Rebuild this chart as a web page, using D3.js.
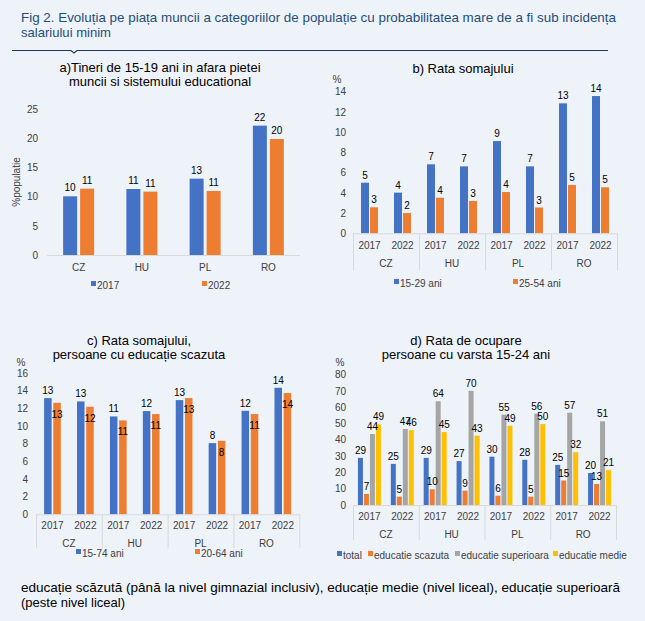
<!DOCTYPE html>
<html>
<head>
<meta charset="utf-8">
<script src="https://cdn.jsdelivr.net/npm/d3@7"></script>
<style>
  html, body { margin: 0; padding: 0; background: #eef2f9; }
  svg { display: block; font-family: "Liberation Sans", Arial, sans-serif; }
</style>
</head>
<body>
<div id="chart"></div>
<script>
// ---- data ----
const countries = ["CZ", "HU", "PL", "RO"];
const years = ["2017", "2022"];

// a) tineri 15-19 in afara pietei muncii si educatiei (% populatie)
const aSeries = ["2017", "2022"];
const aTicks = [0, 5, 10, 15, 20, 25];
const a2017 = [10.05, 11.3, 13.07, 22.15];
const a2022 = [11.36, 10.85, 10.96, 19.86];

// b) rata somajului, pe tara x an (CZ17, CZ22, HU17, ...)
const bSeries = ["15-29 ani", "25-54 ani"];
const bTicks = [0, 2, 4, 6, 8, 10, 12, 14];
const bYoung = [5.0, 4.02, 6.82, 6.62, 9.12, 6.62, 12.85, 13.57];
const bPrime = [2.57, 2.0, 3.52, 3.2, 4.08, 2.55, 4.78, 4.55];

// c) rata somajului, educatie scazuta
const cSeries = ["15-74 ani", "20-64 ani"];
const cTicks = [0, 2, 4, 6, 8, 10, 12, 14, 16];
const cWide = [13.16, 12.78, 11.08, 11.69, 12.93, 8.06, 11.72, 14.33];
const cCore = [12.63, 12.18, 10.63, 11.35, 13.16, 8.32, 11.35, 13.73];

// d) rata de ocupare 15-24 ani
const dSeries = ["total", "educatie scazuta", "educatie superioara", "educatie medie"];
const dTicks = [0, 10, 20, 30, 40, 50, 60, 70, 80];
const dTotal = [28.9, 25.2, 28.9, 26.9, 29.6, 27.7, 24.6, 19.6];
const dLow = [6.8, 5.1, 9.6, 8.8, 5.7, 5.1, 15.0, 12.9];
const dHigh = [43.5, 46.6, 63.6, 70.0, 55.4, 56.0, 56.6, 51.3];
const dMid = [49.4, 45.9, 44.7, 42.5, 48.6, 49.6, 32.4, 21.4];

const colors = ["#4472c4", "#ed7d31", "#a5a5a5", "#ffc000"];
const axisCol = "#d9d9d9";
const textCol = "#404040";

const W = 645, H = 621;
const svg = d3.select("#chart").append("svg")
    .attr("width", W)
    .attr("height", H)
    .attr("viewBox", `0 0 ${W} ${H}`);

svg.append("rect").attr("width", W).attr("height", H).attr("fill", "#eef2f9");

// ---- header ----
const titleLines = [
    "Fig 2. Evoluția pe piața muncii a categoriilor de populație cu probabilitatea mare de a fi sub incidența",
    "salariului minim"
];
const tl = svg.append("g")
    .attr("font-family", "'Liberation Sans Narrow', 'Arial Narrow', 'Liberation Sans', Arial, sans-serif")
    .attr("font-size", 13.5)
    .attr("fill", "#1f4e79");
const t1 = tl.append("text").attr("x", 21).attr("y", 22).text(titleLines[0]);
const t2 = tl.append("text").attr("x", 21).attr("y", 37).text(titleLines[1]);
t1.attr("textLength", 595).attr("lengthAdjust", "spacingAndGlyphs");
t2.attr("textLength", 90).attr("lengthAdjust", "spacingAndGlyphs");

svg.append("path")
    .attr("d", "M12,50.5 H71 L74,53 L77,50.5 H608")
    .attr("fill", "none")
    .attr("stroke", "#1f3864")
    .attr("stroke-width", 1.2);

// ---- footnote ----
const foot = svg.append("g").attr("font-size", 13).attr("fill", "#000");
foot.append("text").attr("x", 21).attr("y", 592)
    .attr("textLength", 599).attr("lengthAdjust", "spacingAndGlyphs")
    .text("educație scăzută (până la nivel gimnazial inclusiv), educație medie (nivel liceal), educație superioară");
foot.append("text").attr("x", 21).attr("y", 607).text("(peste nivel liceal)");

// ---- helpers ----
const fmt = v => String(Math.round(v));

function panelTitle(lines, cx, y0, dy){
    const g = svg.append("g").attr("font-size", 13).attr("fill", "#000").attr("text-anchor", "middle");
    lines.forEach((l, i) => g.append("text").attr("x", cx).attr("y", y0 + i * dy).text(l));
}

function yAxis(y, ticks, xRight){
    const g = svg.append("g")
        .attr("transform", `translate(${xRight},0)`)
        .call(d3.axisLeft(y).tickValues(ticks).tickSize(0).tickPadding(0));
    g.select(".domain").remove();
    g.selectAll("text").attr("font-size", 10).attr("fill", textCol)
        .attr("font-family", "'Liberation Sans', Arial, sans-serif");
}

function legend(items, xs, y){
    const g = svg.append("g").attr("font-size", 10).attr("fill", textCol);
    items.forEach((name, i) => {
        g.append("rect").attr("x", xs[i]).attr("y", y - 4).attr("width", 5).attr("height", 5).attr("fill", colors[i]);
        g.append("text").attr("x", xs[i] + 6).attr("y", y + 3.5).text(name);
    });
}

// two-level grouped bars: country > year > series
function groupedPanel(cfg){
    const y = d3.scaleLinear().domain(cfg.domain).range([cfg.y0, cfg.y1]);
    const x0 = d3.scaleBand().domain(countries).range(cfg.xr);
    const xYear = d3.scaleBand().domain(years).range([0, x0.bandwidth()]);
    const n = cfg.series.length;
    const gw = n * cfg.bw + (n - 1) * cfg.gap;
    const x1 = d3.scaleBand().domain(d3.range(n)).range([-gw / 2, gw / 2])
        .paddingInner(cfg.gap / (cfg.bw + cfg.gap));

    yAxis(y, cfg.ticks, cfg.tickX);

    const rows = [];
    countries.forEach((c, ci) => years.forEach((yr, yi) => {
        cfg.values.forEach((vals, si) => {
            rows.push({c, yr, si, v: vals[ci * 2 + yi]});
        });
    }));
    const cx = d => x0(d.c) + xYear(d.yr) + xYear.bandwidth() / 2 + x1(d.si);

    svg.append("g").selectAll("rect").data(rows).join("rect")
        .attr("x", cx)
        .attr("y", d => y(d.v))
        .attr("width", x1.bandwidth())
        .attr("height", d => y(0) - y(d.v))
        .attr("fill", d => colors[d.si]);

    svg.append("g").attr("font-size", 10).attr("fill", "#000").attr("text-anchor", "middle")
        .selectAll("text").data(rows).join("text")
        .attr("x", d => cx(d) + x1.bandwidth() / 2)
        .attr("y", d => (cfg.inside && cfg.inside[d.si]) ? y(d.v) + 15 : y(d.v) - 4)
        .text(d => fmt(d.v));

    // axis + category separators
    svg.append("line").attr("x1", cfg.xr[0]).attr("x2", cfg.xr[1])
        .attr("y1", y(0) + 0.5).attr("y2", y(0) + 0.5).attr("stroke", axisCol);
    const seps = countries.map(c => x0(c)).concat([cfg.xr[1]]);
    svg.append("g").selectAll("line").data(seps).join("line")
        .attr("x1", d => d + 0.5).attr("x2", d => d + 0.5)
        .attr("y1", y(0)).attr("y2", y(0) + cfg.sepLen)
        .attr("stroke", axisCol);

    const lab = svg.append("g").attr("font-size", 10).attr("fill", textCol).attr("text-anchor", "middle");
    countries.forEach(c => years.forEach(yr => {
        lab.append("text").attr("x", x0(c) + xYear(yr) + xYear.bandwidth() / 2)
            .attr("y", y(0) + cfg.yearDy).text(yr);
    }));
    countries.forEach(c => {
        lab.append("text").attr("x", x0(c) + x0.bandwidth() / 2)
            .attr("y", y(0) + cfg.countryDy).text(c);
    });

    if (cfg.pct) {
        svg.append("text").attr("x", cfg.pct[0]).attr("y", cfg.pct[1])
            .attr("font-size", 10).attr("fill", textCol).attr("text-anchor", "middle").text("%");
    }
    legend(cfg.series, cfg.legendX, cfg.legendY);
}

// ---- panel a ----
(function(){
    panelTitle(["a)Tineri de 15-19 ani in afara pietei", "muncii si sistemului educational"], 160, 71.5, 14);
    const y = d3.scaleLinear().domain([0, 25]).range([255, 109]);
    const x0 = d3.scaleBand().domain(countries).range([47, 300]);
    const bw = 14, gap = 3;
    const x1 = d3.scaleBand().domain(d3.range(2)).range([-(2 * bw + gap) / 2, (2 * bw + gap) / 2])
        .paddingInner(gap / (bw + gap));
    yAxis(y, aTicks, 38);

    const rows = [];
    [a2017, a2022].forEach((vals, si) => countries.forEach((c, ci) => rows.push({c, si, v: vals[ci]})));
    const cx = d => x0(d.c) + x0.bandwidth() / 2 + x1(d.si);

    svg.append("g").selectAll("rect").data(rows).join("rect")
        .attr("x", cx).attr("y", d => y(d.v))
        .attr("width", x1.bandwidth()).attr("height", d => y(0) - y(d.v))
        .attr("fill", d => colors[d.si]);
    svg.append("g").attr("font-size", 10).attr("fill", "#000").attr("text-anchor", "middle")
        .selectAll("text").data(rows).join("text")
        .attr("x", d => cx(d) + x1.bandwidth() / 2)
        .attr("y", d => y(d.v) - 5)
        .text(d => fmt(d.v));

    svg.append("line").attr("x1", 47).attr("x2", 300)
        .attr("y1", y(0) + 0.5).attr("y2", y(0) + 0.5).attr("stroke", axisCol);
    svg.append("g").attr("font-size", 10).attr("fill", textCol).attr("text-anchor", "middle")
        .selectAll("text").data(countries).join("text")
        .attr("x", c => x0(c) + x0.bandwidth() / 2).attr("y", 271).text(c => c);

    svg.append("text").attr("transform", "translate(20,182) rotate(-90)")
        .attr("text-anchor", "middle").attr("font-size", 10).attr("fill", textCol).text("%populatie");
    legend(aSeries, [91, 202], 285);
})();

// ---- panel b ----
panelTitle(["b) Rata somajului"], 463, 72.5, 13);
groupedPanel({
    series: bSeries, values: [bYoung, bPrime], ticks: bTicks,
    domain: [0, 14], y0: 233.3, y1: 91.7, xr: [353, 617], tickX: 346,
    bw: 8, gap: 1, sepLen: 37, yearDy: 16, countryDy: 33.5,
    pct: [337, 82.5], legendX: [394, 513], legendY: 283
});

// ---- panel c ----
panelTitle(["c) Rata somajului,", "persoane cu educație scazuta"], 139, 344.5, 14);
groupedPanel({
    series: cSeries, values: [cWide, cCore], ticks: cTicks,
    domain: [0, 16], y0: 514.3, y1: 373, xr: [36, 299.3], tickX: 28,
    bw: 7.5, gap: 1.7, sepLen: 34, yearDy: 14.5, countryDy: 32.5,
    inside: [false, true],
    pct: [21, 365.5], legendX: [76, 195], legendY: 553
});

// ---- panel d ----
panelTitle(["d) Rata de ocupare", "persoane cu varsta 15-24 ani"], 466, 344.5, 14);
groupedPanel({
    series: dSeries, values: [dTotal, dLow, dHigh, dMid], ticks: dTicks,
    domain: [0, 80], y0: 505, y1: 374.5, xr: [353, 616], tickX: 346,
    bw: 5, gap: 1, sepLen: 35, yearDy: 14.5, countryDy: 32.5,
    pct: [340, 365.5], legendX: [337, 368, 455, 553], legendY: 555
});
</script>
</body>
</html>
